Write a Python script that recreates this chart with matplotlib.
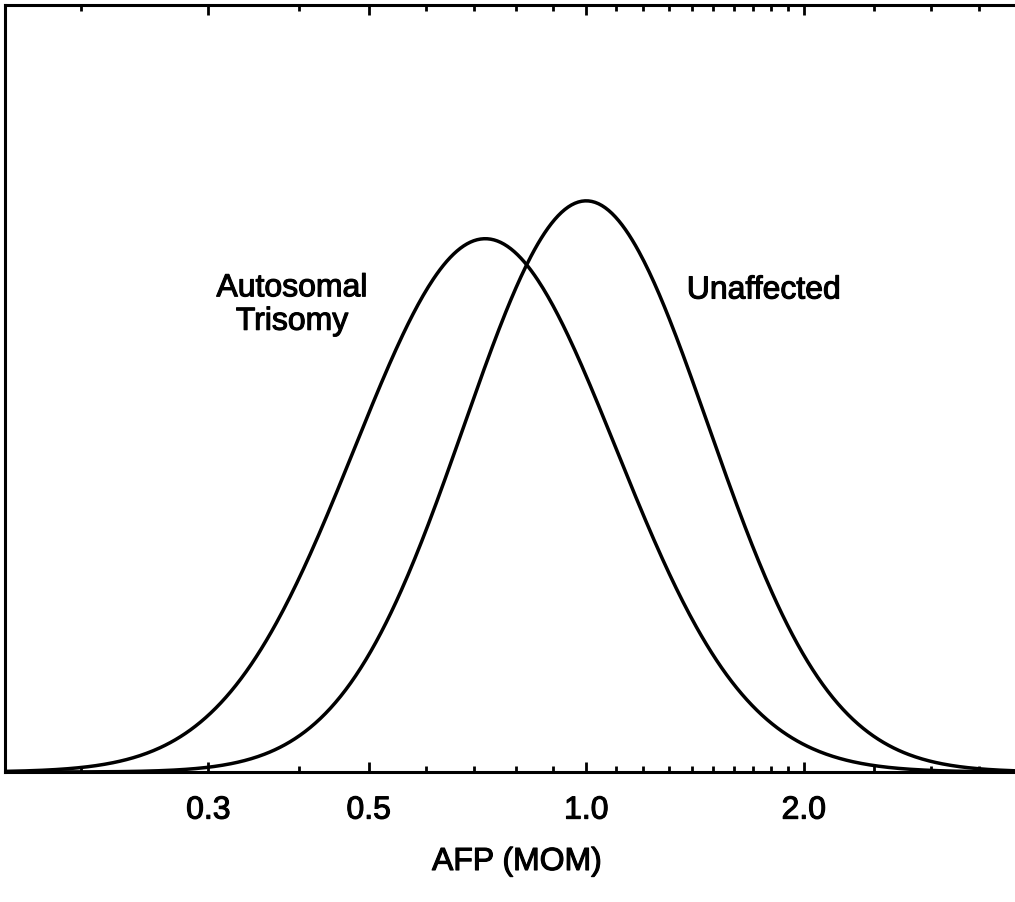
import numpy as np
import matplotlib
matplotlib.use('Agg')
import matplotlib.pyplot as plt
import matplotlib.patheffects as pe
from matplotlib.ticker import FixedLocator, NullFormatter

# Distribution parameters (log10 scale)
groups = ['Unaffected', 'Autosomal\nTrisomy']
medians = [1.0, 0.725]         # MoM at peak
log_sds = [0.169, 0.181]       # SD of log10(MoM)

major_ticks = [0.3, 0.5, 1.0, 2.0]
major_labels = ['0.3', '0.5', '1.0', '2.0']
minor_ticks = [0.2, 0.4, 0.6, 0.7, 0.8, 0.9,
               1.1, 1.2, 1.3, 1.4, 1.5, 1.6, 1.7, 1.8, 1.9,
               2.5, 3.0, 3.5]

plt.rcParams['font.family'] = ['Liberation Sans', 'DejaVu Sans']
# slightly heavier text, like the scanned original
ink = [pe.withStroke(linewidth=0.8, foreground='black')]

fig = plt.figure(figsize=(10.15, 9.03), dpi=100)
ax = fig.add_axes([5 / 1015, 130 / 903, 1010 / 1015, 767 / 903])

xmin, xmax = 0.157, 3.92
grid = np.logspace(np.log10(xmin), np.log10(xmax), 600)
for med, sd in zip(medians, log_sds):
    z = (np.log10(grid) - np.log10(med)) / sd
    dens = np.exp(-0.5 * z ** 2) / (sd * np.sqrt(2 * np.pi))
    ax.plot(grid, dens, color='black', linewidth=2.5, solid_capstyle='round')

ax.set_xscale('log')
ax.set_xlim(xmin, xmax)
ax.set_ylim(0, 3.17)

ax.xaxis.set_major_locator(FixedLocator(major_ticks))
ax.set_xticklabels(major_labels)
ax.xaxis.set_minor_locator(FixedLocator(minor_ticks))
ax.xaxis.set_minor_formatter(NullFormatter())
ax.tick_params(axis='x', which='major', direction='in', top=True, length=7,
               width=2, labelsize=23, pad=17)
ax.tick_params(axis='x', which='minor', direction='in', top=True, length=4,
               width=2)
ax.set_yticks([])
for lbl in ax.get_xticklabels():
    lbl.set_path_effects(ink)

for side in ['left', 'top', 'bottom']:
    ax.spines[side].set_linewidth(2.2)
ax.spines['right'].set_visible(False)

ax.text(1.762, 1.99, groups[0], fontsize=23, ha='center', va='center',
        path_effects=ink)
ax.text(0.392, 1.93, groups[1], fontsize=23, ha='center', va='center',
        linespacing=1.15, path_effects=ink)

ax.set_xlabel('AFP (MOM)', fontsize=23, path_effects=ink)
ax.xaxis.set_label_coords(0.507, -(848 - 773) / 767)

fig.savefig('out.png', dpi=100, facecolor='white')
